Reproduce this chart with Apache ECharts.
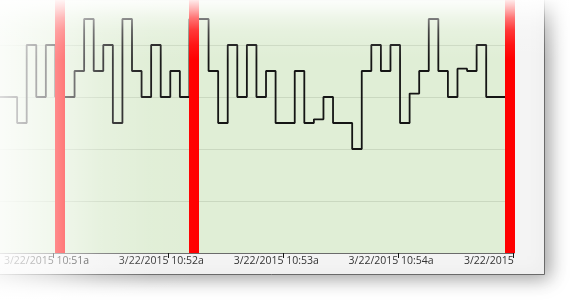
<!DOCTYPE html>
<html><head><meta charset="utf-8">
<script src="https://cdn.jsdelivr.net/npm/echarts@6/dist/echarts.min.js"></script>
<style>html,body{margin:0;padding:0;background:#fff;}#c{width:570px;height:300px;}</style>
</head><body><div id="c"></div>
<script>
// ---- data ----
const stepTimes = ['10:50:31','10:50:36','10:50:41','10:50:46','10:50:51','10:50:56',
  '10:51:01','10:51:06','10:51:11','10:51:16','10:51:21','10:51:26','10:51:31','10:51:36','10:51:41','10:51:46','10:51:51','10:51:56',
  '10:52:01','10:52:06','10:52:11','10:52:16','10:52:21','10:52:26','10:52:31','10:52:36','10:52:41','10:52:46','10:52:51','10:52:56',
  '10:53:01','10:53:06','10:53:11','10:53:16','10:53:21','10:53:26','10:53:31','10:53:36','10:53:41','10:53:46','10:53:51','10:53:56',
  '10:54:01','10:54:06','10:54:11','10:54:16','10:54:21','10:54:26','10:54:31','10:54:36','10:54:41','10:54:46','10:54:51','10:54:56',
  '10:55:01'];
const stepValues = [6,6,5,8,6,8,
  6,6,7,9,7,8,5,9,7,6,8,6,
  7,6,9,9,7,5,8,6,8,6,7,5,
  5,7,5,5.14,6,5,5,4,7,8,7,8,
  5,6.13,7,9,7,6,7.09,7,8,6,6,6,
  6];
const eventTimes = ['10:51:03.5','10:52:13.5','10:54:58.5'];
const tickTimes = ['10:51:00','10:52:00','10:53:00','10:54:00','10:55:00'];
const tickLabels = ['3/22/2015 10:51a','3/22/2015 10:52a','3/22/2015 10:53a','3/22/2015 10:54a','3/22/2015'];
const axisStart = '10:50:32.06', axisEnd = '10:55:00.52';
const valueMin = 0, valueMax = 9.73, valueStep = 2;

function toSec(s){const p=s.split(':');return (+p[0])*3600+(+p[1])*60+parseFloat(p[2]);}
const tickSecs = tickTimes.map(toSec);
const FONT = '"Segoe UI","Open Sans","Noto Sans",sans-serif';
const chart = echarts.init(document.getElementById('c'), null, {renderer:'canvas'});
const LG = echarts.graphic.LinearGradient;
const option = {
  animation:false,
  backgroundColor:'#ffffff',
  grid:{left:0,right:56,top:0,bottom:47,show:true,backgroundColor:'#e0eed6',borderWidth:0},
  xAxis:{type:'value',min:toSec(axisStart),max:toSec(axisEnd),
    axisLine:{show:true,lineStyle:{color:'#6b6b6b',width:1}},
    axisTick:{show:true,length:5,lineStyle:{color:'#111111',width:1},customValues:tickSecs},
    axisLabel:{customValues:tickSecs,margin:3,padding:[0,14,0,0],fontFamily:FONT,fontSize:10.5,color:'#333333',
      formatter:function(v){const i=tickSecs.indexOf(v); if(i<0) return ''; return i===tickSecs.length-1?'{last|'+tickLabels[i]+'}':tickLabels[i];},
      rich:{last:{width:84,align:'left',fontFamily:FONT,fontSize:10.5,color:'#333333'}}},
    splitLine:{show:false}},
  yAxis:{type:'value',min:valueMin,max:valueMax,interval:valueStep,axisLine:{show:false},axisTick:{show:false},axisLabel:{show:false},
    splitLine:{show:true,lineStyle:{color:'#cad8c0',width:1}}},
  series:[{type:'line',step:'end',symbol:'none',clip:true,
    data:stepTimes.map((t,i)=>[toSec(t),stepValues[i]]),
    lineStyle:{color:'#151515',width:1.8},
    markLine:{silent:true,symbol:['none','none'],label:{show:false},
      lineStyle:{color:'#ff0000',width:10,type:'solid',opacity:1},
      emphasis:{disabled:true},
      data:eventTimes.map(t=>({xAxis:toSec(t)}))}}],
  graphic:[
    {type:'rect',z:-10,silent:true,shape:{x:-20,y:-20,width:564.5,height:294.5},
     style:{fill:'#f4f4f4',stroke:'#6a6a6a',lineWidth:1,shadowBlur:18,shadowOffsetX:4,shadowOffsetY:3,shadowColor:'rgba(0,0,0,0.38)'}},
    {type:'rect',z:100,silent:true,shape:{x:0,y:0,width:200,height:300},
     style:{fill:new LG(0,0,1,0,[{offset:0,color:'rgba(255,255,255,0.85)'},{offset:0.25,color:'rgba(255,255,255,0.58)'},{offset:0.5,color:'rgba(255,255,255,0.22)'},{offset:0.75,color:'rgba(255,255,255,0.04)'},{offset:1,color:'rgba(255,255,255,0)'}])}},
    {type:'rect',z:100,silent:true,shape:{x:0,y:0,width:570,height:60},
     style:{fill:new LG(0,0,0,1,[{offset:0,color:'rgba(255,255,255,0.92)'},{offset:0.15,color:'rgba(255,255,255,0.7)'},{offset:0.3,color:'rgba(255,255,255,0.45)'},{offset:0.5,color:'rgba(255,255,255,0.22)'},{offset:0.75,color:'rgba(255,255,255,0.08)'},{offset:1,color:'rgba(255,255,255,0)'}])}}
  ]
};
chart.setOption(option);
</script></body></html>
